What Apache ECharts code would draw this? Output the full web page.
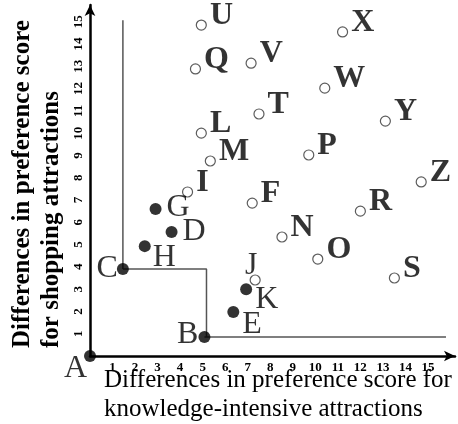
<!DOCTYPE html>
<html>
<head>
<meta charset="utf-8">
<script src="https://cdn.jsdelivr.net/npm/echarts@6/dist/echarts.min.js"></script>
<style>
html,body{margin:0;padding:0;background:#fff;}
#c{width:458px;height:424px;}
</style>
</head>
<body>
<div id="c"></div>
<script>
// ---- data ----
const openNames = ['I','M','L','Q','U','V','T','X','W','Y','P','Z','F','R','N','O','S','J'];
const openX = [4.33,5.34,4.94,4.68,4.94,7.15,7.5,11.21,10.42,13.11,9.71,14.7,7.2,12.0,8.52,10.11,13.51,7.33];
const openY = [7.36,8.75,10.0,12.88,14.85,13.14,10.86,14.54,12.02,10.54,9.02,7.81,6.86,6.5,5.34,4.35,3.5,3.41];

const filledNames = ['A','B','C','H','D','G','E','K'];
const filledX = [0,5.08,1.46,2.43,3.62,2.91,6.36,6.93];
const filledY = [0,0.85,3.9,4.93,5.56,6.6,1.97,3.0];

// boundary lines
const vertLineX = [1.46,1.46];
const vertLineY = [3.9,15.07];
const stepLineX = [1.46,5.17,5.17];
const stepLineY = [3.9,3.9,0.85];
const baseLineX = [5.08,15.8];
const baseLineY = [0.85,0.85];

const xTickLabels = ['1','2','3','4','5','6','7','8','9','10','11','12','13','14','15'];
const yTickLabels = ['1','2','3','4','5','6','7','8','9','10','11','12','13','14','15'];

const xTitle = ['Differences in preference score for','knowledge-intensive attractions'];
const yTitle = ['Differences in preference score','for shopping attractions'];

// ---- styles (label layout) ----
const SERIF = '"Liberation Serif","Times New Roman",serif';
const labelLayout = {
  A:{position:'left',offset:[8,13]},
  B:{position:'left',offset:[5,-2]},
  C:{position:'left',offset:[6,0]},
  H:{position:'right',offset:[-3,11]},
  D:{position:'right',offset:[0,0]},
  G:{position:'right',offset:[0,-1]},
  E:{position:'right',offset:[-2,12]},
  K:{position:'right',offset:[-2,10]},
  J:{position:'top',offset:[-4,12],fontWeight:'normal'}
};
function zip(xs, ys) { return xs.map((x,i)=>[x, ys[i]]); }
function pts(names, xs, ys, weight) {
  return names.map((n,i)=>{
    const l = labelLayout[n] || {position:'right',offset:[-2,-9]};
    return {
      name:n, value:[xs[i], ys[i]],
      label:{position:l.position, offset:l.offset, fontWeight:l.fontWeight || weight}
    };
  });
}

const chart = echarts.init(document.getElementById('c'), null, {renderer:'canvas'});
const lineStyle = {color:'#555', width:1.5};
const labelBase = {show:true, formatter:'{b}', color:'#000', fontFamily:SERIF, fontSize:32, distance:5};

chart.setOption({
  animation:false,
  backgroundColor:'#fff',
  grid:{left:90, right:1, top:5, bottom:68, containLabel:false},
  xAxis:{
    type:'value', min:0, max:16.2, interval:1,
    axisLine:{show:true, symbol:['none','arrow'], symbolSize:[8,11], lineStyle:{color:'#000', width:2.5}},
    axisTick:{show:false}, splitLine:{show:false},
    axisLabel:{
      margin:5, color:'#000', fontFamily:SERIF, fontWeight:'bold', fontSize:13,
      formatter:(v)=>{ const i = Math.round(v); return (Math.abs(v-i)<1e-6 && i>=1 && i<=xTickLabels.length) ? xTickLabels[i-1] : ''; }
    }
  },
  yAxis:{
    type:'value', min:0, max:15.75, interval:1,
    axisLine:{show:true, symbol:['none','arrow'], symbolSize:[8,11], lineStyle:{color:'#000', width:2.5}},
    axisTick:{show:false}, splitLine:{show:false},
    axisLabel:{
      margin:5, rotate:90, color:'#000', fontFamily:SERIF, fontWeight:'bold', fontSize:13,
      formatter:(v)=>{ const i = Math.round(v); return (Math.abs(v-i)<1e-6 && i>=1 && i<=yTickLabels.length) ? yTickLabels[i-1] : ''; }
    }
  },
  series:[
    {type:'line', data:zip(vertLineX, vertLineY), symbol:'none', lineStyle:lineStyle, z:1},
    {type:'line', data:zip(stepLineX, stepLineY), symbol:'none', lineStyle:lineStyle, z:1},
    {type:'line', data:zip(baseLineX, baseLineY), symbol:'none', lineStyle:lineStyle, z:1},
    {
      type:'scatter', symbol:'circle', symbolSize:10, z:3,
      itemStyle:{color:'#fff', borderColor:'#333', borderWidth:1.2},
      label:Object.assign({}, labelBase, {fontWeight:'bold'}),
      data:pts(openNames, openX, openY, 'bold')
    },
    {
      type:'scatter', symbol:'circle', symbolSize:12, z:4,
      itemStyle:{color:'#000'},
      label:Object.assign({}, labelBase, {fontWeight:'normal'}),
      data:pts(filledNames, filledX, filledY, 'normal')
    }
  ],
  graphic:[
    {type:'text', x:104, y:380, style:{text:xTitle[0], font:'25px '+SERIF, fill:'#000', textAlign:'left', textVerticalAlign:'middle'}},
    {type:'text', x:104, y:409, style:{text:xTitle[1], font:'25px '+SERIF, fill:'#000', textAlign:'left', textVerticalAlign:'middle'}},
    {type:'text', x:23, y:348, rotation:Math.PI/2, style:{text:yTitle[0], font:'bold 25px '+SERIF, fill:'#000', textAlign:'left', textVerticalAlign:'middle'}},
    {type:'text', x:52, y:348, rotation:Math.PI/2, style:{text:yTitle[1], font:'bold 25px '+SERIF, fill:'#000', textAlign:'left', textVerticalAlign:'middle'}}
  ]
});
</script>
</body>
</html>
